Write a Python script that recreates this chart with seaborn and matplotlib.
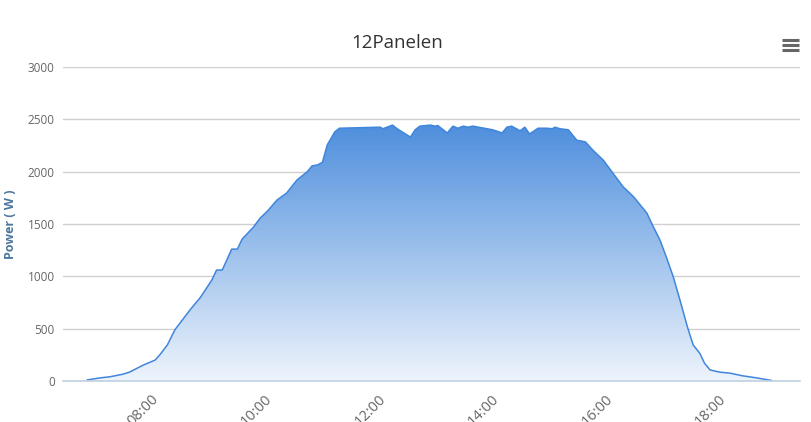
import numpy as np
import pandas as pd
import matplotlib
matplotlib.use("Agg")
import matplotlib.pyplot as plt
import matplotlib.dates as mdates
import matplotlib.transforms as mtrans
from matplotlib.lines import Line2D
from matplotlib.colors import LinearSegmentedColormap
import seaborn as sns

# data
times = ["06:47", "07:01", "07:11", "07:25", "07:32", "07:46", "07:59", "08:04",
         "08:12", "08:20", "08:36", "08:47", "08:59", "09:04", "09:10", "09:20",
         "09:26", "09:31", "09:43", "09:50", "09:58", "10:08", "10:18", "10:29",
         "10:40", "10:45", "10:51", "10:56", "11:01", "11:09", "11:14", "11:57",
         "12:00", "12:10", "12:15", "12:29", "12:34", "12:39", "12:50", "12:55",
         "12:58", "13:08", "13:14", "13:19", "13:25", "13:30", "13:35", "13:56",
         "14:06", "14:11", "14:16", "14:25", "14:30", "14:35", "14:44", "14:53",
         "14:59", "15:02", "15:07", "15:16", "15:25", "15:34", "15:42", "15:53",
         "16:02", "16:14", "16:25", "16:39", "16:45", "16:53", "17:00", "17:07",
         "17:14", "17:22", "17:28", "17:35", "17:40", "17:46", "17:56", "18:07",
         "18:20", "18:35", "18:51"]
power = [10, 30, 40, 65, 85, 150, 200, 250,
         345, 490, 680, 800, 965, 1060, 1060, 1260,
         1260, 1355, 1470, 1555, 1625, 1730, 1795, 1920,
         2000, 2055, 2065, 2090, 2255, 2380, 2415, 2425,
         2410, 2445, 2410, 2330, 2400, 2435, 2445, 2435,
         2440, 2370, 2435, 2415, 2435, 2425, 2435, 2400,
         2370, 2425, 2435, 2390, 2425, 2360, 2415, 2415,
         2410, 2425, 2410, 2400, 2300, 2285, 2205, 2110,
         2000, 1855, 1760, 1605, 1490, 1345, 1175, 995,
         775, 515, 345, 265, 170, 105, 85, 75,
         50, 30, 5]
y_ticks = [0, 500, 1000, 1500, 2000, 2500, 3000]

df = pd.DataFrame({"time": pd.to_datetime("2024-06-01 " + pd.Series(times)),
                   "power": power})

sns.set_style("white")
plt.rcParams["font.family"] = ["Open Sans", "DejaVu Sans"]

fig = plt.figure(figsize=(8.12, 4.22), dpi=100)
ax = fig.add_axes([63 / 812, 1 - 381 / 422, (800 - 63) / 812, (381 - 67) / 422])

line_col = "#3f86dc"
sns.lineplot(data=df, x="time", y="power", ax=ax, color=line_col, lw=1.1, zorder=4)

# gradient fill under the curve
xnum = mdates.date2num(df["time"])
poly = ax.fill_between(df["time"], df["power"], 0, color="none", lw=0)
cmap = LinearSegmentedColormap.from_list("g", ["#eef4fc", "#4f8fdd"])
grad = np.linspace(0, 1, 256).reshape(-1, 1)
img = ax.imshow(grad, cmap=cmap, aspect="auto", origin="lower",
                extent=[xnum.min(), xnum.max(), 0, max(power)], zorder=2)
img.set_clip_path(poly.get_paths()[0], transform=ax.transData)

x0 = pd.Timestamp("2024-06-01 06:21:36")
x1 = pd.Timestamp("2024-06-01 19:21:00")
ax.set_xlim(x0, x1)
ax.set_ylim(0, 3000)

ax.set_yticks(y_ticks)
ax.set_yticklabels([str(v) for v in y_ticks])
ax.grid(axis="y", color="#d0d0d0", lw=1, zorder=1)
ax.grid(axis="x", visible=False)
ax.set_axisbelow(True)

ax.xaxis.set_major_locator(mdates.HourLocator(byhour=range(0, 24, 2)))
ax.xaxis.set_major_formatter(mdates.DateFormatter("%H:%M"))
ax.tick_params(axis="x", length=6, width=1, color="#c0d0e0", labelsize=10.5,
               labelcolor="#666666", pad=4, direction="out")
ax.tick_params(axis="y", length=0, labelsize=8.5, labelcolor="#666666", pad=6)
shift = mtrans.ScaledTranslation(-5 / 100, 3 / 100, fig.dpi_scale_trans)
for lab in ax.get_xticklabels():
    lab.set_rotation(45)
    lab.set_ha("right")
    lab.set_rotation_mode("anchor")
    lab.set_transform(lab.get_transform() + shift)

for s in ["top", "right", "left"]:
    ax.spines[s].set_visible(False)
ax.spines["bottom"].set_color("#c0d0e0")
ax.spines["bottom"].set_linewidth(1.2)
ax.spines["bottom"].set_zorder(5)

ax.set_xlabel("")
ax.set_ylabel("Power ( W )", color="#4d759e", fontsize=9, fontweight="bold")
ax.yaxis.set_label_coords((17 - 63) / 737, 0.5)
fig.text(397 / 812, 1 - 43 / 422, "12Panelen", color="#333333", fontsize=13.5,
         ha="center", va="center")

# menu icon
for yy in [40, 45, 50]:
    fig.add_artist(Line2D([782 / 812, 799 / 812], [1 - yy / 422, 1 - yy / 422],
                          color="#666666", lw=2.2, solid_capstyle="butt"))

fig.savefig("out.png", dpi=100)
